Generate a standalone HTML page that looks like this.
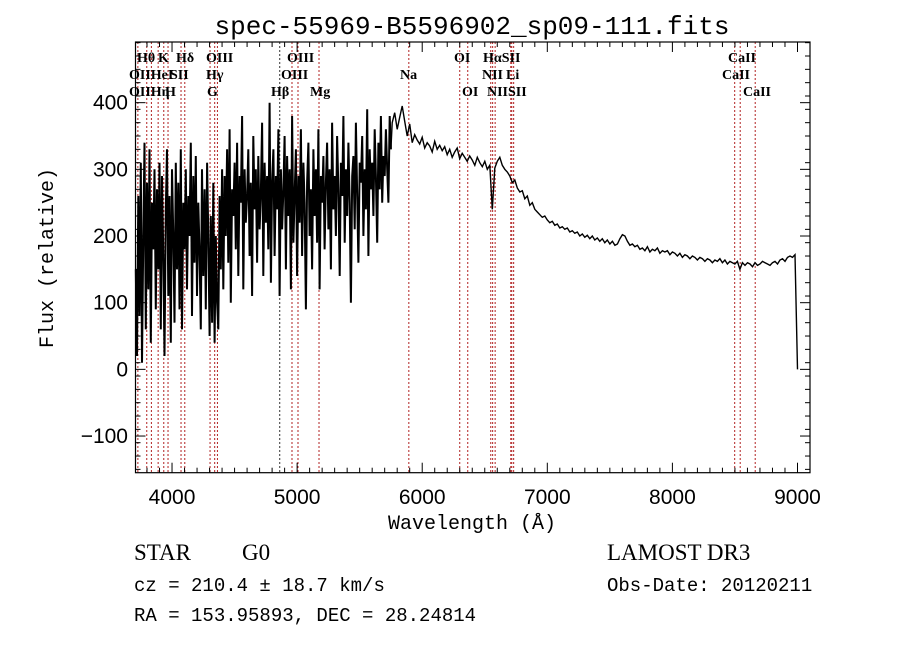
<!DOCTYPE html>
<html><head><meta charset="utf-8"><style>
body{margin:0;background:#fff}
svg{display:block}
.t{font-family:"Liberation Sans",sans-serif;font-size:21px}
.m{font-family:"Liberation Mono",monospace}
.s{font-family:"Liberation Serif",serif}
.ll{font-family:"Liberation Serif",serif;font-size:14px;font-weight:bold}
</style></head><body>
<svg id="c" width="900" height="649" viewBox="0 0 900 649">
<rect width="900" height="649" fill="#fff"/>
<text x="472" y="34" text-anchor="middle" class="m" font-size="26">spec-55969-B5596902_sp09-111.fits</text>
<g id="lines"></g>
<g id="spec"></g>
<g id="axes"></g>
<g class="ll">
<text x="137" y="62">Hθ</text><text x="158" y="62">K</text><text x="176" y="62">Hδ</text><text x="206" y="62">OIII</text><text x="287" y="62">OIII</text>
<text x="129" y="79">OIIHeI</text><text x="170" y="79">SII</text><text x="206" y="79">Hγ</text><text x="281" y="79">OIII</text>
<text x="129" y="96">OIIHη</text><text x="165" y="96">H</text><text x="207" y="96">G</text><text x="271" y="96">Hβ</text><text x="310" y="96">Mg</text>
<text x="454" y="62">OI</text><text x="483" y="62">HαSII</text><text x="728" y="62">CaII</text>
<text x="400" y="79">Na</text><text x="482" y="79">NII</text><text x="506" y="79">Li</text><text x="722" y="79">CaII</text>
<text x="462" y="96">OI</text><text x="487" y="96">NIISII</text><text x="743" y="96">CaII</text>
</g>
<text x="472" y="529" text-anchor="middle" class="m" font-size="20">Wavelength (Å)</text>
<text transform="translate(53,258) rotate(-90)" text-anchor="middle" class="m" font-size="20">Flux (relative)</text>
<text x="134" y="560" class="s" font-size="23">STAR</text>
<text x="242" y="560" class="s" font-size="23">G0</text>
<text x="134" y="591" class="m" font-size="19">cz = 210.4 ± 18.7 km/s</text>
<text x="134" y="621" class="m" font-size="19">RA = 153.95893, DEC =  28.24814</text>
<text x="607" y="560" class="s" font-size="23">LAMOST DR3</text>
<text x="607" y="591" class="m" font-size="19">Obs-Date: 20120211</text>
</svg>
<script>
const blueStart=3710, blueStep=10;
const blueFlux=[150,20,260,80,310,10,200,340,60,280,
120,330,40,250,180,300,90,270,150,310,
60,290,170,20,240,330,110,260,40,300,
200,70,310,150,280,90,330,60,250,180,
300,120,260,200,340,80,290,160,320,110,
250,180,60,300,140,270,90,310,200,50,
230,70,280,40,200,100,60,260,150,300,
120,290,200,330,160,360,100,270,230,310,
180,340,140,290,250,380,120,300,220,260,
330,170,280,110,350,240,300,160,320,210,
260,370,140,310,220,290,180,400,130,280,
330,170,290,240,360,110,300,210,270,350,
150,320,230,300,120,380,190,260,330,140,
290,220,360,170,310,250,90,280,340,200,
270,150,330,230,300,190,360,120,290,250,
320,180,280,340,210,300,150,370,240,290,
200,350,270,140,310,260,380,190,300,230,
340,250,100,290,320,210,370,260,160,310,
280,350,200,300,240,390,170,330,270,310,
230,360,290,190,340,270,380,250,320,290,
360,300,250,380,330];
const redStart=5760, redStep=20;
const redFlux=[370,385,360,378,395,372,350,368,340,352,
344,338,348,332,340,335,326,342,330,336,
328,334,322,330,318,326,332,316,324,318,
312,320,314,306,318,310,304,312,300,306,
240,302,312,318,306,300,296,290,280,284,
272,266,268,256,260,246,250,240,236,232,
228,230,224,220,222,216,218,212,214,210,
212,206,208,204,206,200,203,198,201,196,
200,194,197,192,196,190,194,188,192,186,
188,196,202,200,192,186,188,184,186,180,
182,178,184,176,180,178,182,174,178,176,
178,172,176,174,170,174,168,172,170,166,
170,168,164,168,166,162,166,164,160,164,
162,166,160,164,158,162,160,158,162,150,
160,156,160,158,154,160,156,158,162,160,
158,156,160,162,158,164,166,162,168,170,
168,172,0];
const lineWaves=[3727,3798,3835,3889,3934,3968,4072,4102,4304,4341,4363,4861,4959,5007,5175,5893,6300,6364,6548,6563,6583,6708,6716,6731,8498,8542,8662];
const xTicks=[4000,5000,6000,7000,8000,9000];
const yTicks=[-100,0,100,200,300,400];
const xMin=3708,xMax=9100,yMin=-155,yMax=491;
const L=135.5,R=810,T=42,B=472.7;
const X=w=>L+(w-xMin)/(xMax-xMin)*(R-L);
const Y=f=>B-(f-yMin)/(yMax-yMin)*(B-T);
const NS='http://www.w3.org/2000/svg';
function mk(tag,attrs,parent){const e=document.createElementNS(NS,tag);for(const k in attrs)e.setAttribute(k,attrs[k]);parent.appendChild(e);return e;}
const gl=document.getElementById('lines');
lineWaves.forEach(w=>{
 const ln=mk('line',{x1:X(w),x2:X(w),y1:T,y2:B,stroke:w===4861?'#333':'#b22222','stroke-width':1,'stroke-dasharray':'2,2'},gl);
 
 
});
let bpts=[],rpts=[];
blueFlux.forEach((f,i)=>bpts.push(X(blueStart+i*blueStep).toFixed(1)+','+Y(f).toFixed(1)));
rpts.push(bpts[bpts.length-1]);
redFlux.forEach((f,i)=>rpts.push(X(redStart+i*redStep).toFixed(1)+','+Y(f).toFixed(1)));
const sp=mk('polyline',{points:bpts.join(' '),fill:'none',stroke:'#000','stroke-width':2},document.getElementById('spec'));


const sp2=mk('polyline',{points:rpts.join(' '),fill:'none',stroke:'#000','stroke-width':1.4},document.getElementById('spec'));


const ga=document.getElementById('axes');
const fr=mk('rect',{x:L,y:T,width:R-L,height:B-T,fill:'none',stroke:'#000','stroke-width':1.2},ga);


for(let w=3800;w<=9100;w+=100){const big=w%1000===0;const h=big?10:5;
 mk('line',{x1:X(w),x2:X(w),y1:B,y2:B-h,stroke:'#000'},ga);mk('line',{x1:X(w),x2:X(w),y1:T,y2:T+h,stroke:'#000'},ga);}
for(let f=-150;f<=490;f+=20){const big=f%100===0;const h=big?10:5;
 mk('line',{x1:L,x2:L+h,y1:Y(f),y2:Y(f),stroke:'#000'},ga);mk('line',{x1:R,x2:R-h,y1:Y(f),y2:Y(f),stroke:'#000'},ga);}
yTicks.forEach(f=>{mk('line',{x1:L,x2:L+10,y1:Y(f),y2:Y(f),stroke:'#000'},ga);mk('line',{x1:R,x2:R-10,y1:Y(f),y2:Y(f),stroke:'#000'},ga);
 const t=mk('text',{x:128,y:Y(f)+7,'text-anchor':'end',class:'t'},ga);t.textContent=f===-100?'\u2212100':String(f);
 
 });
xTicks.forEach(w=>{const t=mk('text',{x:X(w),y:504,'text-anchor':'middle',class:'t'},ga);t.textContent=String(w);
 
 });
</script>
</body></html>
